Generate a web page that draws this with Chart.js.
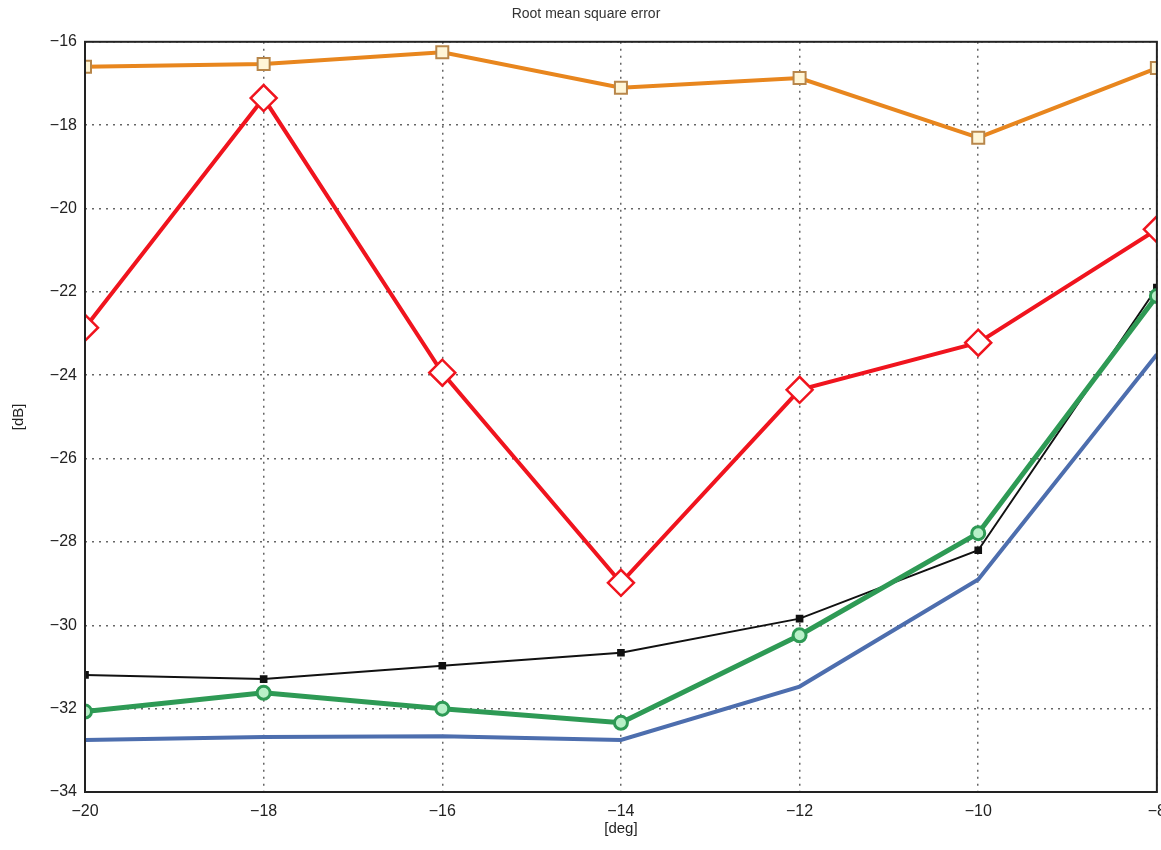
<!DOCTYPE html>
<html>
<head>
<meta charset="utf-8">
<script src="https://cdn.jsdelivr.net/npm/chart.js@4"></script>
<style>
  html, body { margin: 0; padding: 0; background: #fff; overflow: hidden; }
  #clip { width: 1161px; height: 850px; overflow: hidden; }
  #wrap { width: 1176px; height: 850px; }
</style>
</head>
<body>
<div id="clip"><div id="wrap"><canvas id="myChart"></canvas></div></div>
<script>
// values
const angles = [-20, -18, -16, -14, -12, -10, -8];
const orangeVals = [-16.6, -16.53, -16.25, -17.1, -16.87, -18.3, -16.63];
const redVals    = [-22.86, -17.35, -23.94, -28.98, -24.35, -23.22, -20.5];
const blackVals  = [-31.19, -31.29, -30.97, -30.66, -29.84, -28.2, -21.9];
const greenVals  = [-32.07, -31.62, -32.0, -32.34, -30.24, -27.79, -22.1];
const blueVals   = [-32.75, -32.68, -32.66, -32.75, -31.47, -28.9, -23.5];
const yTicks = [-34, -32, -30, -28, -26, -24, -22, -20, -18, -16];
const xTicks = [-20, -18, -16, -14, -12, -10, -8];

const pts = vals => angles.map((a, i) => ({ x: a, y: vals[i] }));
const minus = v => String(v).replace('-', '\u2212');
const FONT = 'Liberation Sans, Arial, sans-serif';

// box round the plot, like matlab
const boxPlugin = {
    id: 'box',
    afterDraw(chart) {
        const a = chart.chartArea, c = chart.ctx;
        c.save();
        c.strokeStyle = '#222';
        c.lineWidth = 2;
        c.strokeRect(a.left, a.top, a.right - a.left, a.bottom - a.top);
        c.restore();
    }
};

const ctx = document.getElementById('myChart').getContext('2d');
new Chart(ctx, {
    type: 'line',
    data: {
        datasets: [
            { data: pts(blueVals), borderColor: '#4d6eae', borderWidth: 4, pointRadius: 0 },
            { data: pts(greenVals), borderColor: '#2e9a55', borderWidth: 5, pointStyle: 'circle', pointRadius: 6.5,
              pointBackgroundColor: '#b8f0c8', pointBorderColor: '#2e9a55', pointBorderWidth: 3 },
            { data: pts(blackVals), borderColor: '#111', borderWidth: 2, pointStyle: 'rect', pointRadius: 4,
              pointBackgroundColor: '#111', pointBorderColor: '#111' },
            { data: pts(redVals), borderColor: '#f0141e', borderWidth: 4, pointStyle: 'rectRot', pointRadius: 13,
              pointBackgroundColor: '#fff', pointBorderColor: '#f0141e', pointBorderWidth: 2.5 },
            { data: pts(orangeVals), borderColor: '#e8861e', borderWidth: 4, pointStyle: 'rect', pointRadius: 8.5,
              pointBackgroundColor: '#fff6d8', pointBorderColor: '#b8864a', pointBorderWidth: 2 }
        ]
    },
    options: {
        responsive: true,
        maintainAspectRatio: false,
        animation: false,
        layout: { padding: { left: 0, right: 4, top: 0, bottom: 0 } },
        plugins: {
            legend: { display: false },
            tooltip: { enabled: false },
            title: {
                display: true,
                text: 'Root mean square error',
                color: '#333',
                font: { family: FONT, size: 14, weight: 'normal' },
                padding: { top: 6, bottom: 19 }
            }
        },
        scales: {
            x: {
                type: 'linear',
                min: -20, max: -8,
                afterBuildTicks: s => { s.ticks = xTicks.map(v => ({ value: v })); },
                afterFit: s => { s.height = 58; },
                grid: { color: '#666', lineWidth: 1.5, drawTicks: false },
                border: { display: false, dash: [2, 5] },
                ticks: {
                    color: '#222', padding: 10,
                    font: { family: FONT, size: 16 },
                    callback: v => minus(v)
                },
                title: {
                    display: true, text: '[deg]', color: '#222', padding: { top: 0, bottom: 12 },
                    font: { family: FONT, size: 15 }
                }
            },
            y: {
                min: -34, max: -16,
                afterBuildTicks: s => { s.ticks = yTicks.map(v => ({ value: v })); },
                afterFit: s => { s.width = 85; },
                grid: { color: '#666', lineWidth: 1.5, drawTicks: false },
                border: { display: false, dash: [2, 5] },
                ticks: {
                    color: '#222', padding: 8,
                    font: { family: FONT, size: 16 },
                    callback: v => minus(v)
                },
                title: {
                    display: true, text: '[dB]', color: '#222', padding: { top: 10, bottom: 4 },
                    font: { family: FONT, size: 15 }
                }
            }
        }
    },
    plugins: [boxPlugin]
});
</script>
</body>
</html>
